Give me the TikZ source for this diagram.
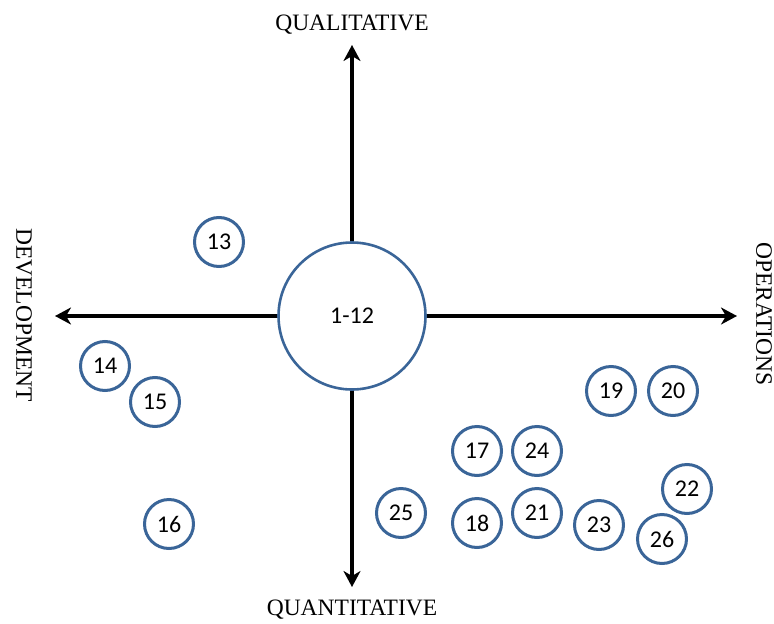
\documentclass[tikz,border=0pt]{standalone}
\usepackage{fontspec}
\setmainfont{Liberation Serif}
\newfontfamily\numfont{Carlito}
\usetikzlibrary{arrows.meta}
\definecolor{ringblue}{HTML}{3A6598}
\tikzset{
  item/.style={circle, draw=ringblue, line width=3pt, fill=white, minimum size=49pt, inner sep=0pt, font=\numfont\fontsize{24}{24}\selectfont},
  hub/.style={circle, draw=ringblue, line width=2.6pt, fill=white, minimum size=147pt, inner sep=0pt, font=\numfont\fontsize{24}{24}\selectfont},
  axis/.style={line width=3.6pt, -{Stealth[length=16pt,width=17pt,inset=5pt]}},
  pole/.style={font=\fontsize{23.5}{23.5}\selectfont, inner sep=0pt}
}
\begin{document}
\begin{tikzpicture}[x=1pt, y=-1pt]
\useasboundingbox (0,0) rectangle (774,624);
\coordinate (Q) at (352,45);
\coordinate (N) at (352,587);
\coordinate (D) at (55,316);
\coordinate (O) at (737,316);
\node[hub] (c) at (352,316) {1-12};
\draw[axis] (c.north) -- (Q);
\draw[axis] (c.south) -- (N);
\draw[axis] (c.west) -- (D);
\draw[axis] (c.east) -- (O);
\node[pole, anchor=base] (qual) at (352,30) {QUALITATIVE};
\node[pole, anchor=base] (quan) at (352,615) {QUANTITATIVE};
\node[pole, rotate=-90] (dev) at (24,315) {DEVELOPMENT};
\node[pole, rotate=-90] (ops) at (764,314) {OPERATIONS};
\foreach \n/\x/\y in {13/219/242, 14/105/366, 15/155/402, 16/169/524,
  17/477/451, 24/537/451, 25/401/513, 18/477/523, 21/537/513,
  23/599/525, 22/687/489, 26/662/539, 19/611/391, 20/673/391}
  \node[item] (i\n) at (\x,\y) {\n};
\end{tikzpicture}
\end{document}
